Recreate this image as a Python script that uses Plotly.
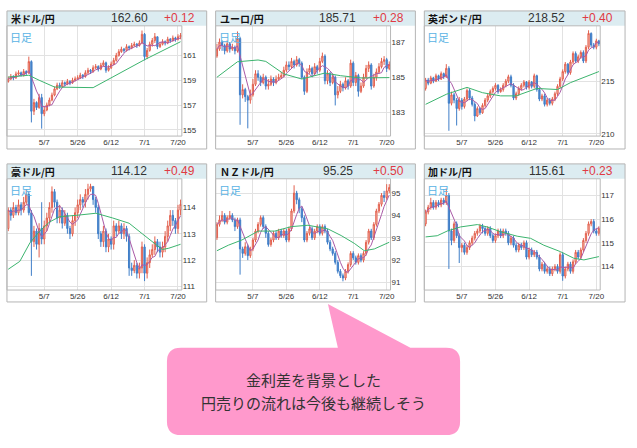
import plotly.graph_objects as go
import pandas as pd

W, H = 637, 448

# ---------------- data ----------------
tick_bars = [14, 27, 40, 53, 66]
tick_labels = ["5/7", "5/26", "6/12", "7/1", "7/20"]

pairs = ["米ドル/円", "ユーロ/円", "英ポンド/円", "豪ドル/円", "ＮＺドル/円", "加ドル/円"]
last_price = ["162.60", "185.71", "218.52", "114.12", "95.25", "115.61"]
change = ["+0.12", "+0.28", "+0.40", "+0.49", "+0.50", "+0.23"]

first_open = [158.9, 186.2, 214.3, 113.2, 93.0, 115.8]

close_usd = [159.1,159.3,159.2,159.5,159.6,159.4,159.7,159.6,160.5,156.5,
             157.2,156.8,157.6,156.3,156.6,157.0,157.4,157.8,158.3,158.6,
             158.5,158.8,158.7,158.9,158.8,159.0,159.1,159.2,159.4,159.3,
             159.6,159.8,159.7,160.0,160.1,159.9,160.2,160.4,159.8,160.0,
             160.3,160.6,161.0,161.3,161.5,161.4,161.7,161.6,161.8,161.9,
             161.8,162.0,162.7,160.9,161.4,161.9,162.2,162.5,161.7,161.9,
             162.1,162.0,162.3,162.2,162.4,162.3,162.5,162.6]
high_usd = [159.3,159.5,159.4,159.7,159.8,159.7,159.9,159.8,160.9,160.6,
            157.5,157.3,157.9,157.9,156.9,157.2,157.6,158.0,158.5,158.8,
            158.8,159.0,158.9,159.1,159.0,159.2,159.3,159.4,159.6,159.5,
            159.8,160.0,159.9,160.2,160.3,160.2,160.4,160.6,160.5,160.2,
            160.5,160.8,161.2,161.5,161.7,161.6,161.9,161.8,162.0,162.1,
            162.0,162.2,163.0,162.8,161.6,162.1,162.4,162.8,162.5,162.1,
            162.3,162.2,162.5,162.4,162.6,162.5,162.7,162.8]
low_usd = [158.8,159.0,159.0,159.1,159.4,159.3,159.3,159.4,159.5,155.6,
           156.2,156.6,156.7,155.1,156.1,156.5,156.9,157.3,157.7,158.2,
           158.3,158.4,158.5,158.6,158.6,158.7,158.9,159.0,159.1,159.1,
           159.2,159.5,159.5,159.6,159.9,159.7,159.8,160.1,159.6,159.7,
           159.9,160.2,160.5,160.9,161.2,161.2,161.3,161.4,161.5,161.7,
           161.6,161.7,161.9,160.6,160.7,161.3,161.7,162.0,161.5,161.6,
           161.8,161.8,161.9,162.0,162.1,162.1,162.2,162.3]

close_eur = [186.6,187.0,186.8,186.5,186.9,186.6,186.7,186.5,187.2,184.0,
             184.3,183.9,183.7,184.0,184.6,185.2,185.0,184.7,185.0,184.5,
             184.6,184.9,184.7,184.9,185.0,185.1,185.4,185.7,185.6,185.9,
             185.7,186.0,185.8,185.0,184.2,185.3,185.5,185.2,185.6,185.4,
             185.9,186.2,184.8,185.2,184.7,185.0,184.0,184.2,184.6,184.4,
             184.8,184.5,185.8,184.7,185.1,184.2,184.5,185.0,185.5,185.7,
             184.5,185.0,185.3,185.6,185.9,186.0,185.5,185.71]
high_eur = [186.9,187.2,187.1,186.9,187.1,187.0,186.9,186.8,187.6,187.3,
            184.6,184.4,184.0,184.3,184.9,185.4,185.4,185.1,185.2,185.1,
            184.9,185.1,185.0,185.1,185.2,185.3,185.6,185.9,185.9,186.1,
            186.0,186.2,186.1,185.9,185.1,185.5,185.7,185.6,185.8,185.7,
            186.1,186.4,186.3,185.4,185.3,185.2,185.1,184.5,184.8,184.7,
            185.0,184.9,186.0,185.9,185.3,185.2,184.7,185.2,185.7,185.9,
            185.8,185.2,185.5,185.8,186.1,186.2,186.1,185.9]
low_eur = [186.1,186.5,186.5,186.3,186.4,186.4,186.5,186.3,186.4,182.3,
           183.8,183.6,182.1,183.5,183.9,184.5,184.8,184.5,184.6,184.3,
           184.3,184.5,184.5,184.6,184.8,184.9,185.0,185.3,185.4,185.5,
           185.5,185.6,185.6,184.9,184.0,184.1,185.2,185.0,185.1,185.2,
           185.3,185.8,184.6,184.6,184.5,184.6,183.4,183.8,184.1,184.2,
           184.3,184.3,184.4,184.5,184.5,183.9,184.1,184.4,184.9,185.3,
           184.3,184.4,184.8,185.2,185.5,185.7,185.3,185.4]

close_gbp = [215.1,214.8,215.3,215.0,215.5,215.2,215.7,215.4,216.2,212.9,
             213.7,213.2,212.4,213.2,212.6,213.3,214.1,213.4,212.8,211.7,
             212.4,212.0,212.7,213.2,213.6,214.0,214.3,214.6,214.0,214.2,
             214.6,215.0,215.4,214.6,213.4,213.8,214.3,214.6,214.9,214.4,
             214.9,214.5,215.5,214.2,213.3,213.6,212.8,213.2,212.9,213.3,
             213.8,214.5,215.2,215.9,216.6,215.8,216.8,217.6,216.9,217.3,
             217.7,216.9,218.2,219.5,218.4,218.2,218.8,218.52]
high_gbp = [215.3,215.3,215.5,215.4,215.7,215.6,215.9,215.8,216.6,216.4,
            214.0,213.9,213.4,213.5,213.4,213.5,214.3,214.3,213.6,213.0,
            212.6,212.5,212.9,213.4,213.8,214.2,214.5,214.8,214.7,214.4,
            214.8,215.2,215.6,215.6,214.8,214.0,214.5,214.8,215.1,215.0,
            215.1,215.0,215.7,215.6,214.4,213.8,213.8,213.4,213.4,213.5,
            214.0,214.7,215.4,216.1,216.8,216.7,217.0,217.8,217.8,217.5,
            217.9,217.9,218.4,219.8,219.6,218.6,219.0,218.9]
low_gbp = [214.1,214.6,214.7,214.8,214.9,215.0,215.1,215.2,215.3,210.3,
           212.7,212.9,210.8,212.2,212.3,212.4,213.1,213.2,212.6,211.2,
           211.6,211.8,211.9,212.5,213.0,213.4,213.8,214.1,213.8,213.9,
           214.0,214.4,214.8,214.4,213.2,213.2,213.6,214.1,214.4,214.2,
           214.2,214.3,214.3,214.0,213.1,213.1,212.6,212.6,212.7,212.7,
           213.1,213.6,214.3,215.0,215.7,215.6,215.6,216.6,216.7,216.7,
           217.1,216.7,216.7,218.0,218.2,218.0,218.0,218.3]

close_aud = [113.9,113.7,114.0,113.8,114.1,113.9,114.2,114.5,113.8,112.7,
             113.1,112.6,113.2,112.8,113.3,113.6,114.0,114.6,114.2,113.6,
             113.9,113.4,113.7,113.2,113.0,113.5,113.8,114.1,114.3,114.2,
             114.5,114.7,114.8,114.3,114.0,113.0,112.7,113.1,112.5,112.8,
             112.6,113.3,113.1,113.3,113.0,113.2,112.9,111.7,111.6,111.8,
             111.5,111.7,112.5,111.5,111.9,112.2,112.4,112.7,112.5,112.3,
             112.5,112.9,113.3,113.7,113.5,113.2,113.9,114.12]
high_aud = [114.0,114.0,114.2,114.1,114.3,114.2,114.4,114.7,114.6,113.9,
            113.3,113.2,113.4,114.2,113.5,113.8,114.2,114.8,114.7,114.3,
            114.1,114.0,113.9,113.8,113.3,113.7,114.0,114.3,114.5,114.4,
            114.7,114.9,114.9,114.8,114.4,114.1,113.1,113.3,113.2,113.0,
            112.9,113.5,113.4,113.5,113.4,113.4,113.3,113.0,111.9,112.0,
            111.9,111.9,112.7,112.6,112.1,112.4,112.6,112.9,112.8,112.7,
            112.7,113.1,113.5,113.9,113.9,113.6,114.1,114.3]
low_aud = [113.1,113.5,113.6,113.7,113.7,113.7,113.8,114.1,113.7,111.4,
           112.5,112.4,112.1,112.6,112.6,113.1,113.4,113.8,114.0,113.4,
           113.4,113.2,113.3,113.0,112.8,112.9,113.3,113.6,113.9,114.0,
           114.0,114.3,114.6,114.1,113.8,112.8,112.5,112.5,112.3,112.3,
           112.4,112.4,112.9,113.0,112.8,112.8,112.7,111.4,111.4,111.5,
           111.3,111.3,111.5,111.2,111.3,111.7,112.1,112.2,112.3,112.1,
           112.1,112.3,112.7,113.1,113.3,113.0,113.0,113.7]

close_nzd = [93.6,93.8,94.0,93.7,93.9,94.0,93.8,93.5,93.8,92.5,
             92.3,92.6,92.2,92.5,92.9,93.3,93.6,93.9,93.5,93.2,
             92.7,92.9,93.2,93.0,93.3,93.1,93.3,92.9,93.4,94.2,
             95.0,94.7,94.3,93.9,92.9,93.2,93.4,93.0,93.3,93.5,
             93.2,93.5,93.3,92.8,92.5,92.3,91.9,91.5,91.3,91.2,
             91.5,91.8,92.3,92.1,91.9,92.2,92.0,92.3,92.8,93.3,
             93.0,93.6,94.2,94.5,94.9,94.8,95.1,95.25]
high_nzd = [93.7,94.0,94.2,94.1,94.0,94.2,94.1,93.9,93.9,93.9,
            92.6,92.8,92.7,92.6,93.0,93.4,93.7,94.0,94.0,93.6,
            93.3,93.0,93.3,93.3,93.4,93.4,93.4,93.4,93.5,94.3,
            95.35,95.1,94.8,94.4,94.0,93.3,93.5,93.5,93.4,93.6,
            93.6,93.6,93.6,93.4,92.9,92.6,92.4,92.0,91.6,91.4,
            91.6,91.9,92.4,92.4,92.2,92.3,92.3,92.4,92.9,93.4,
            93.4,93.7,94.3,94.6,95.0,95.1,95.4,95.4]
low_nzd = [92.9,93.5,93.7,93.6,93.6,93.8,93.7,93.3,93.4,91.35,
           92.1,92.2,92.0,92.1,92.4,92.8,93.2,93.5,93.4,93.0,
           92.6,92.6,92.8,92.9,92.9,93.0,93.0,92.8,92.8,93.3,
           94.1,94.5,94.1,93.7,92.8,92.8,93.1,92.9,92.9,93.2,
           93.1,93.1,93.2,92.7,92.4,92.2,91.8,91.4,91.2,91.05,
           91.1,91.4,91.7,92.0,91.8,91.8,91.9,91.9,92.2,92.7,
           92.9,92.9,93.5,94.1,94.4,94.6,94.7,95.0]

close_cad = [116.3,116.5,116.7,116.5,116.7,116.6,116.8,116.7,117.0,115.5,
             115.1,115.8,115.3,114.8,114.9,114.6,114.8,115.0,115.2,115.4,
             115.5,115.7,115.6,115.4,115.6,115.3,115.1,115.3,115.5,115.3,
             115.5,115.4,115.0,115.2,114.9,114.7,114.9,114.8,115.0,114.4,
             114.7,114.5,114.6,114.4,113.9,114.1,113.8,113.9,113.7,113.9,
             114.0,113.8,114.5,113.6,113.9,114.1,113.8,114.2,114.6,114.4,
             114.7,115.1,115.4,115.8,115.9,115.5,115.4,115.61]
high_cad = [116.4,116.6,116.9,116.8,116.8,116.8,116.9,116.9,117.3,117.1,
            115.6,115.9,115.9,115.4,115.0,115.0,114.9,115.1,115.3,115.5,
            115.6,115.8,115.8,115.7,115.7,115.7,115.4,115.4,115.6,115.6,
            115.6,115.6,115.5,115.3,115.3,115.0,115.0,115.0,115.1,115.1,
            114.8,114.8,114.7,114.7,114.5,114.2,114.2,114.0,114.0,114.0,
            114.1,114.1,114.6,114.6,114.0,114.2,114.2,114.3,114.7,114.7,
            114.8,115.2,115.5,115.9,116.0,116.0,115.6,115.7]
low_cad = [115.7,116.2,116.4,116.4,116.4,116.5,116.5,116.6,116.6,113.9,
           114.9,115.0,115.2,114.15,114.6,114.5,114.5,114.7,114.9,115.1,
           115.3,115.4,115.4,115.3,115.3,115.2,115.0,115.0,115.2,115.2,
           115.2,115.3,114.9,114.9,114.8,114.6,114.6,114.7,114.7,114.3,
           114.3,114.4,114.4,114.3,113.8,113.8,113.7,113.7,113.6,113.6,
           113.8,113.7,113.7,113.4,113.5,113.8,113.7,113.7,114.1,114.3,
           114.3,114.6,115.0,115.3,115.7,115.4,115.3,115.3]

# long moving average (green) read as polyline vertices: bar index / value
ma_long_bars = [
    [0, 8, 12, 18, 33, 53, 67],
    [0, 8, 16, 19, 26, 33, 42, 48, 56, 67],
    [0, 8, 16, 22, 29, 35, 43, 51, 56, 61, 67],
    [0, 4.5, 8.4, 12.2, 16.1, 20, 26.4, 34.1, 40.6, 47, 52.1, 56, 59.9, 62.4, 67],
    [0, 4.5, 9.7, 16.1, 22.5, 29, 35.4, 43.1, 48.3, 53.4, 57.3, 61.2, 67],
    [0, 4.5, 8.4, 13.5, 20, 23.8, 29, 35.4, 40.6, 45.7, 52.1, 57.3, 61.2, 67],
]
ma_long_vals = [
    [159.25, 159.4, 159.0, 158.45, 158.4, 160.65, 162.1],
    [185.0, 185.88, 185.98, 185.9, 185.19, 184.9, 185.24, 185.09, 184.96, 184.98],
    [212.8, 213.75, 214.4, 213.9, 213.6, 213.6, 214.3, 214.2, 214.85, 215.3, 215.9],
    [111.65, 111.95, 112.65, 113.1, 113.45, 113.65, 113.7, 113.78, 113.6, 113.4, 113.0, 112.7, 112.4, 112.45, 112.6],
    [92.42, 92.67, 92.9, 93.3, 93.3, 93.5, 93.56, 93.4, 93.1, 92.75, 92.42, 92.5, 92.8],
    [115.25, 115.3, 115.5, 115.67, 115.77, 115.67, 115.47, 115.28, 115.19, 114.9, 114.63, 114.35, 114.28, 114.42],
]

y_ticks = [[155, 157, 159, 161], [183, 185, 187], [210, 215],
           [111, 112, 113, 114], [91, 92, 93, 94, 95], [114, 115, 116, 117]]
y_ranges = [[154.5, 163.38], [181.66, 187.92], [209.8, 220.22],
            [110.86, 115.09], [90.66, 95.64], [113.01, 117.7]]

closes = [close_usd, close_eur, close_gbp, close_aud, close_nzd, close_cad]
highs = [high_usd, high_eur, high_gbp, high_aud, high_nzd, high_cad]
lows = [low_usd, low_eur, low_gbp, low_aud, low_nzd, low_cad]

bubble_lines = ["金利差を背景とした", "円売りの流れは今後も継続しそう"]

# ---------------- layout geometry (pixels) ----------------
cols = [(7, 183, 208), (217, 393, 418), (427, 604, 629)]   # panel left, plot right, panel right
rows = [(11, 26, 137, 150), (165, 180, 292, 304)]          # header top, plot top, plot bottom, panel bottom


def px(x):
    return x / W


def py(y):
    return 1 - y / H


fig = go.Figure()
shapes = []
annotations = []
layout = {}

JP = "Noto Sans CJK JP"

for k in range(6):
    r, cidx = divmod(k, 3)
    xl, xr, xo = cols[cidx]
    yh, yt, yb, yo = rows[r]
    n = k + 1
    xa = "x" if n == 1 else f"x{n}"
    ya = "y" if n == 1 else f"y{n}"
    xkey = "xaxis" if n == 1 else f"xaxis{n}"
    ykey = "yaxis" if n == 1 else f"yaxis{n}"

    c = closes[k]
    o = [first_open[k]] + c[:-1]
    idx = list(range(len(c)))

    fig.add_trace(go.Candlestick(
        x=idx, open=o, high=highs[k], low=lows[k], close=c,
        xaxis=xa, yaxis=ya, whiskerwidth=0,
        increasing=dict(line=dict(color="#e2604e", width=1), fillcolor="#f8cdc4"),
        decreasing=dict(line=dict(color="#3f7ec8", width=1), fillcolor="#4f88cc"),
        showlegend=False, hoverinfo="skip",
    ))
    ma_short = pd.Series(c).rolling(5, min_periods=1).mean()
    fig.add_trace(go.Scatter(x=idx, y=ma_short, mode="lines", xaxis=xa, yaxis=ya,
                             line=dict(color="#a95aa6", width=1), showlegend=False, hoverinfo="skip"))
    fig.add_trace(go.Scatter(x=ma_long_bars[k], y=ma_long_vals[k], mode="lines", xaxis=xa, yaxis=ya,
                             line=dict(color="#3cb46e", width=1), showlegend=False, hoverinfo="skip"))

    layout[xkey] = dict(
        domain=[px(xl), px(xr)], range=[-0.5, len(c) - 0.5], anchor=ya,
        tickmode="array", tickvals=tick_bars, ticktext=tick_labels,
        showgrid=True, gridcolor="#e2e2e2", gridwidth=1, zeroline=False,
        showline=False, ticks="", rangeslider=dict(visible=False),
        tickfont=dict(family="Liberation Sans", size=8, color="#333"), fixedrange=True,
    )
    layout[ykey] = dict(
        domain=[py(yb), py(yt)], range=y_ranges[k], anchor=xa, side="right",
        tickmode="array", tickvals=y_ticks[k],
        showgrid=True, gridcolor="#e2e2e2", gridwidth=1, zeroline=False,
        showline=False, ticks="",
        tickfont=dict(family="Liberation Sans", size=8, color="#333"), fixedrange=True,
    )

    # header background
    shapes.append(dict(type="rect", xref="paper", yref="paper",
                       x0=px(xl), x1=px(xo), y0=py(yt), y1=py(yh),
                       fillcolor="#dcecf1", line=dict(width=0), layer="below"))
    # panel outer border
    shapes.append(dict(type="rect", xref="paper", yref="paper",
                       x0=px(xl), x1=px(xo), y0=py(yo), y1=py(yh),
                       line=dict(color="#b4b4b4", width=1)))
    # plot area border
    shapes.append(dict(type="rect", xref="paper", yref="paper",
                       x0=px(xl), x1=px(xr), y0=py(yb), y1=py(yt),
                       line=dict(color="#b8b8b8", width=1)))

    hy = py((yh + yt) / 2)
    annotations.append(dict(text=f"<b>{pairs[k]}</b>", x=px(xl + 2), y=hy, xref="paper", yref="paper",
                            xanchor="left", yanchor="middle", showarrow=False,
                            font=dict(family=JP, size=10, color="#111")))
    annotations.append(dict(text=last_price[k], x=px(xl + 123), y=hy, xref="paper", yref="paper",
                            xanchor="center", yanchor="middle", showarrow=False,
                            font=dict(family="Liberation Sans", size=12, color="#333")))
    annotations.append(dict(text=change[k], x=px(xl + 174), y=hy, xref="paper", yref="paper",
                            xanchor="center", yanchor="middle", showarrow=False,
                            font=dict(family="Liberation Sans", size=12, color="#e03a44")))
    annotations.append(dict(text="日足", x=px(xl + 1), y=py(yt + 1), xref="paper", yref="paper",
                            xanchor="left", yanchor="top", showarrow=False,
                            font=dict(family=JP, size=11, color="#5ab3e4")))

# speech bubble
bx0, bx1, by0, by1, rr = 168, 463, 350, 438, 14
tail_a, tail_b, apex = 340, 413, (330, 306)


def P(x, y):
    return f"{px(x):.5f},{py(y):.5f}"


path = (f"M {P(bx0 + rr, by0)} L {P(tail_a, by0)} L {P(*apex)} L {P(tail_b, by0)} "
        f"L {P(bx1 - rr, by0)} Q {P(bx1, by0)} {P(bx1, by0 + rr)} "
        f"L {P(bx1, by1 - rr)} Q {P(bx1, by1)} {P(bx1 - rr, by1)} "
        f"L {P(bx0 + rr, by1)} Q {P(bx0, by1)} {P(bx0, by1 - rr)} "
        f"L {P(bx0, by0 + rr)} Q {P(bx0, by0)} {P(bx0 + rr, by0)} Z")
shapes.append(dict(type="path", xref="paper", yref="paper", path=path,
                   fillcolor="#ff99cc", line=dict(width=0)))

for i, (txt, yy) in enumerate(zip(bubble_lines, [382, 405])):
    annotations.append(dict(text=txt, x=px(315), y=py(yy), xref="paper", yref="paper",
                            xanchor="center", yanchor="middle", showarrow=False,
                            font=dict(family=JP, size=15, color="#333")))

fig.update_layout(
    width=W, height=H, margin=dict(l=0, r=0, t=0, b=0),
    paper_bgcolor="white", plot_bgcolor="white",
    shapes=shapes, annotations=annotations, showlegend=False,
    **layout,
)

fig.write_html("out.html")
